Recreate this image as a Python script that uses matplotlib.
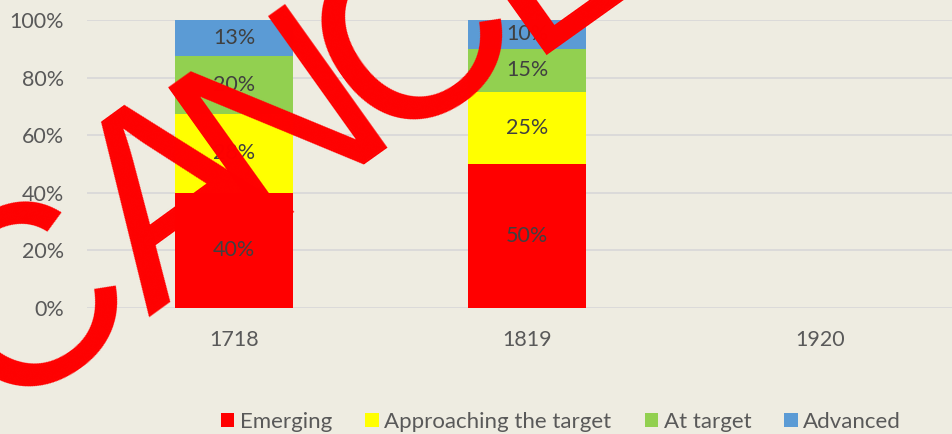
import matplotlib
matplotlib.use("Agg")
import matplotlib.pyplot as plt
import numpy as np

categories = ["1718", "1819", "1920"]
series_names = ["Emerging", "Approaching the target", "At target", "Advanced"]
emerging = [0.40, 0.50, np.nan]
approaching = [0.275, 0.25, np.nan]
at_target = [0.20, 0.15, np.nan]
advanced = [0.125, 0.10, np.nan]
y_ticks = [0, 0.2, 0.4, 0.6, 0.8, 1.0]
watermark = "CANCEL"

colors = ["#FF0000", "#FFFF00", "#92D050", "#5B9BD5"]
bg = "#EEECE1"
font = ["Lato", "DejaVu Sans"]
plt.rcParams["font.family"] = font

W, H = 953, 434
fig = plt.figure(figsize=(W / 100, H / 100), dpi=100, facecolor=bg)
ax = fig.add_axes([0.0918, 0.2903, 0.9224, 0.6636], facecolor=bg)

x = np.arange(len(categories))
bottom = np.zeros(len(categories))
for name, vals, c in zip(series_names, [emerging, approaching, at_target, advanced], colors):
    v = np.array(vals, dtype=float)
    ax.bar(x, np.nan_to_num(v), 0.4, bottom=bottom, color=c, label=name, zorder=2)
    for xi, vi, bi in zip(x, v, bottom):
        if not np.isnan(vi) and vi > 0:
            ax.text(xi, bi + vi / 2, f"{int(vi * 100 + 0.5)}%", ha="center", va="center",
                    fontsize=15.5, color="#404040", zorder=3)
    bottom = bottom + np.nan_to_num(v)

ax.set_xlim(-0.5, len(categories) - 0.5)
ax.set_ylim(0, 1)
ax.set_yticks(y_ticks)
ax.set_yticklabels([f"{int(t * 100 + 0.5)}%" for t in y_ticks])
ax.set_xticks(x)
ax.set_xticklabels(categories)
ax.tick_params(axis="both", length=0, labelsize=15.5, labelcolor="#595959")
ax.tick_params(axis="y", pad=17)
ax.tick_params(axis="x", pad=16)
ax.grid(axis="y", color="#D9D9D9", linewidth=1.3, zorder=0)
ax.set_axisbelow(True)
for s in ax.spines.values():
    s.set_visible(False)

leg = fig.legend(loc="center", bbox_to_anchor=(0.5887, 0.0276), ncol=4, frameon=False,
                 fontsize=16, handlelength=0.6, handleheight=0.6, handletextpad=0.25,
                 columnspacing=1.5, labelcolor="#595959")

# watermark letters: baseline-centre anchor in pixels from top-left, angle and size
anchors = [(72, 362), (222, 264), (325, 177), (457, 95), (596, 5), (704, -76)]
angles = [35.5, 36.0, 35.5, 35.5, 35.5, 35.5]
sizes = [185, 195, 185, 185, 185, 185]
for ch, (px, py), ang, fs in zip(watermark, anchors, angles, sizes):
    fig.text(px / W, 1 - py / H, ch, fontsize=fs, color="#FF0000", rotation=ang,
             rotation_mode="anchor", ha="center", va="baseline",
             family=["Liberation Sans"], zorder=10)

fig.savefig("out.png", dpi=100, facecolor=bg)
